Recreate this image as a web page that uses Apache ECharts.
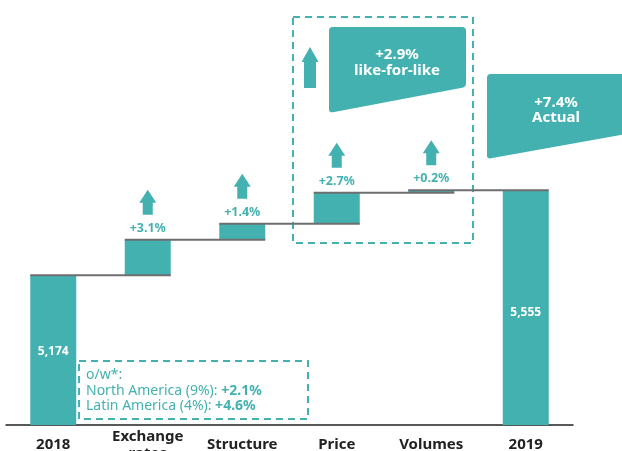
<!DOCTYPE html>
<html>
<head>
<meta charset="utf-8">
<script src="https://cdn.jsdelivr.net/npm/echarts@6/dist/echarts.min.js"></script>
<style>
  html, body { margin: 0; padding: 0; background: #fff; }
  #chart { width: 622px; height: 451px; }
</style>
</head>
<body>
<div id="chart"></div>
<script>
// Sales bridge 2018 -> 2019
const categories = ['2018', 'Exchange\nrates', 'Structure', 'Price', 'Volumes', '2019'];
const openingSales = 5174;
const closingSales = 5555;
const stepPct = [3.1, 1.4, 2.7, 0.2];          // Exchange rates, Structure, Price, Volumes
const likeForLikeSteps = [2, 3];                // Price + Volumes
const regionNames = ['North America (9%)', 'Latin America (4%)'];
const regionPct = [2.1, 4.6];

const TEAL = '#44b1b1';
const INK = '#222222';
const FONT = '"Noto Sans", "Open Sans", sans-serif';
const BAR_W = 46;

// running levels through the bridge
const stepAbs = stepPct.map(p => openingSales * p / 100);
const levels = [openingSales];
stepAbs.forEach(d => levels.push(levels[levels.length - 1] + d));

const fmtPct = p => '+' + p.toFixed(1) + '%';
const lflPct = likeForLikeSteps.reduce((s, i) => s + stepPct[i], 0);
const actualPct = (closingSales / openingSales - 1) * 100;

const baseData = [0].concat(levels.slice(0, 4)).concat([0]);
const visibleData = categories.map((c, i) => {
  if (i === 0 || i === categories.length - 1) {
    const v = i === 0 ? openingSales : closingSales;
    return {
      value: v,
      label: {
        show: true, position: 'inside', color: '#fff', fontWeight: 'bold',
        fontSize: 12, fontFamily: FONT, offset: [0, i === 0 ? 1 : 5],
        formatter: () => v.toLocaleString('en-US')
      }
    };
  }
  return {
    value: stepAbs[i - 1],
    label: {
      show: true, position: 'top', distance: 5, color: TEAL, fontWeight: 'bold',
      fontSize: 12.5, fontFamily: FONT, formatter: () => fmtPct(stepPct[i - 1])
    }
  };
});

// connectors: from the left edge of bar i to the right edge of bar i+1
const connectorData = levels.map((v, i) => [i, v]);
// arrows sit above each step bar
const arrowData = stepPct.map((p, i) => [i + 1, levels[i + 1]]);

function arrowPoints(cx, bottom, height, headW, shaftW, headH) {
  const neck = bottom - height + headH;
  return [
    [cx - shaftW / 2, bottom], [cx - shaftW / 2, neck], [cx - headW / 2, neck],
    [cx, bottom - height],
    [cx + headW / 2, neck], [cx + shaftW / 2, neck], [cx + shaftW / 2, bottom]
  ];
}

function roundedPoints(pts, r) {
  // polygon outline with softly rounded corners (quadratic corner sampling)
  const n = pts.length, out = [];
  for (let i = 0; i < n; i++) {
    const p0 = pts[(i - 1 + n) % n], p1 = pts[i], p2 = pts[(i + 1) % n];
    const l1 = Math.hypot(p1[0] - p0[0], p1[1] - p0[1]);
    const l2 = Math.hypot(p2[0] - p1[0], p2[1] - p1[1]);
    const a = [p1[0] + (p0[0] - p1[0]) * r / l1, p1[1] + (p0[1] - p1[1]) * r / l1];
    const b = [p1[0] + (p2[0] - p1[0]) * r / l2, p1[1] + (p2[1] - p1[1]) * r / l2];
    for (let k = 0; k <= 6; k++) {
      const t = k / 6, u = 1 - t;
      out.push([
        u * u * a[0] + 2 * u * t * p1[0] + t * t * b[0],
        u * u * a[1] + 2 * u * t * p1[1] + t * t * b[1]
      ]);
    }
  }
  return out;
}

const chart = echarts.init(document.getElementById('chart'));

chart.setOption({
  animation: false,
  grid: { left: 6, right: 49, top: 92, bottom: 26, containLabel: false, outerBoundsMode: 'none' },
  xAxis: {
    type: 'category',
    data: categories,
    axisLine: { lineStyle: { color: INK, width: 1.5 } },
    axisTick: { show: false },
    axisLabel: {
      color: INK, fontWeight: 'bold', fontSize: 15, fontFamily: FONT,
      margin: 20, verticalAlign: 'middle', lineHeight: 17, interval: 0
    }
  },
  yAxis: {
    type: 'value', min: 4500, max: 6000, show: false,
    splitLine: { show: false }
  },
  series: [
    {
      type: 'bar', stack: 'bridge', barWidth: BAR_W, silent: true,
      itemStyle: { color: 'transparent' },
      data: baseData
    },
    {
      type: 'bar', stack: 'bridge', barWidth: BAR_W,
      itemStyle: { color: TEAL },
      data: visibleData
    },
    {
      type: 'custom', z: 5,
      data: connectorData,
      renderItem: (params, api) => {
        const i = api.value(0);
        const a = api.coord([i, api.value(1)]);
        const b = api.coord([i + 1, api.value(1)]);
        return {
          type: 'line',
          shape: { x1: a[0] - BAR_W / 2, y1: a[1], x2: b[0] + BAR_W / 2, y2: b[1] },
          style: { stroke: '#6e6e6e', lineWidth: 2 }
        };
      }
    },
    {
      type: 'custom', z: 5,
      data: arrowData,
      renderItem: (params, api) => {
        const p = api.coord([api.value(0), api.value(1)]);
        return {
          type: 'polygon',
          shape: { points: arrowPoints(p[0], p[1] - 25, 25, 17, 10, 13) },
          style: { fill: TEAL }
        };
      }
    }
  ],
  graphic: [
    {
      type: 'rect', shape: { x: 293, y: 17, width: 180, height: 226 },
      style: { fill: 'none', stroke: TEAL, lineWidth: 2, lineDash: [7, 5] }
    },
    {
      type: 'polygon',
      shape: { points: arrowPoints(310, 88, 41, 17, 12, 15) },
      style: { fill: TEAL }
    },
    {
      type: 'polygon',
      shape: { points: roundedPoints([[329, 27], [466, 27], [466, 87], [329, 113]], 4) },
      style: { fill: TEAL }
    },
    {
      type: 'text', x: 397, y: 63,
      style: {
        text: fmtPct(lflPct) + '\nlike-for-like', fill: '#fff', fontWeight: 'bold',
        fontSize: 15, fontFamily: FONT, align: 'center', verticalAlign: 'middle', lineHeight: 16
      }
    },
    {
      type: 'polygon',
      shape: { points: roundedPoints([[487, 74], [626, 74], [626, 134], [487, 159]], 4) },
      style: { fill: TEAL }
    },
    {
      type: 'text', x: 556, y: 110,
      style: {
        text: fmtPct(actualPct) + '\nActual', fill: '#fff', fontWeight: 'bold',
        fontSize: 15, fontFamily: FONT, align: 'center', verticalAlign: 'middle', lineHeight: 15
      }
    },
    {
      type: 'rect', shape: { x: 79, y: 361, width: 229, height: 58 },
      style: { fill: '#fff', stroke: TEAL, lineWidth: 2, lineDash: [7, 5] }
    },
    {
      type: 'text', x: 86, y: 391,
      style: {
        text: 'o/w*:\n' + regionNames.map((n, i) => n + ': {b|' + fmtPct(regionPct[i]) + '}').join('\n'),
        fill: TEAL, fontSize: 14, fontFamily: FONT, verticalAlign: 'middle', lineHeight: 15.5,
        rich: { b: { fontWeight: 'bold', fontSize: 14, fontFamily: FONT, fill: TEAL } }
      }
    }
  ]
});
</script>
</body>
</html>
